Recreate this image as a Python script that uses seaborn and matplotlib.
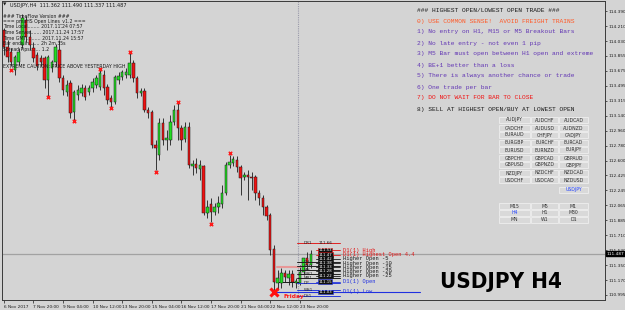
import numpy as np
import pandas as pd
import matplotlib
matplotlib.use("Agg")
import matplotlib.pyplot as plt
import seaborn as sns
from matplotlib.patches import Rectangle

# ---------------- data ----------------
opens = [114.16, 113.96, 113.90, 113.68, 113.78, 113.98, 114.28, 114.08, 113.95, 113.86,
         113.83, 113.83, 113.56, 113.71, 113.78, 113.92, 113.59, 113.42, 113.53, 113.18,
         113.39, 113.41, 113.47, 113.42, 113.47, 113.51, 113.48, 113.63, 113.48, 113.35,
         113.30, 113.56, 113.60, 113.63, 113.63, 113.77, 113.59, 113.41, 113.43, 113.21,
         113.18, 112.79, 112.67, 113.05, 112.85, 112.85, 113.06, 113.21, 112.99, 112.86,
         113.00, 112.54, 112.56, 112.50, 112.54, 111.97, 112.08, 111.99, 112.05, 112.08,
         112.21, 112.55, 112.57, 112.61, 112.52, 112.40, 112.43, 112.40, 112.40, 112.21,
         112.15, 112.05, 111.95, 111.54, 111.14, 111.14, 111.26, 111.20, 111.25, 111.14,
         111.14, 111.27, 111.44, 111.35]
highs = [114.19, 114.04, 113.95, 113.86, 113.95, 114.35, 114.33, 114.16, 114.02, 113.90,
         113.86, 113.85, 113.86, 113.80, 114.00, 114.04, 113.63, 113.56, 113.56, 113.45,
         113.51, 113.52, 113.51, 113.51, 113.59, 113.63, 113.71, 113.68, 113.52, 113.39,
         113.63, 113.66, 113.68, 113.71, 113.89, 113.80, 113.61, 113.47, 113.47, 113.24,
         113.21, 112.85, 113.11, 113.11, 112.97, 113.15, 113.27, 113.29, 113.03, 113.06,
         113.06, 112.61, 112.63, 112.61, 112.55, 112.13, 112.15, 112.09, 112.18, 112.31,
         112.58, 112.67, 112.66, 112.66, 112.55, 112.46, 112.49, 112.46, 112.43, 112.25,
         112.19, 112.07, 111.97, 111.59, 111.29, 111.32, 111.29, 111.29, 111.29, 111.20,
         111.35, 111.44, 111.51, 111.53]
lows = [113.86, 113.78, 113.73, 113.63, 113.74, 113.95, 114.02, 113.92, 113.78, 113.68,
        113.73, 113.47, 113.37, 113.66, 113.73, 113.54, 113.39, 113.37, 113.11, 113.09,
        113.33, 113.37, 113.33, 113.39, 113.42, 113.47, 113.45, 113.39, 113.28, 113.24,
        113.28, 113.52, 113.56, 113.59, 113.59, 113.54, 113.35, 113.37, 113.18, 113.11,
        112.75, 112.49, 112.61, 112.79, 112.73, 112.79, 113.03, 112.85, 112.73, 112.82,
        112.51, 112.43, 112.45, 112.37, 111.95, 111.91, 111.87, 111.95, 111.97, 112.03,
        112.19, 112.51, 112.54, 112.46, 112.19, 112.37, 112.13, 112.25, 112.13, 112.07,
        111.95, 111.89, 111.47, 111.03, 111.05, 111.08, 111.15, 111.11, 111.09, 111.08,
        111.11, 111.23, 111.29, 111.32]
closes = [113.96, 113.84, 113.78, 113.84, 113.90, 114.31, 114.08, 113.98, 113.83, 113.73,
          113.78, 113.56, 113.84, 113.78, 113.96, 113.59, 113.45, 113.51, 113.17, 113.42,
          113.45, 113.47, 113.36, 113.47, 113.54, 113.59, 113.65, 113.47, 113.33, 113.30,
          113.60, 113.61, 113.66, 113.66, 113.77, 113.59, 113.41, 113.43, 113.21, 113.17,
          112.79, 112.75, 113.05, 112.85, 112.87, 113.06, 113.21, 112.99, 112.85, 113.00,
          112.55, 112.56, 112.51, 112.55, 111.97, 112.05, 111.99, 112.05, 112.09, 112.21,
          112.55, 112.58, 112.62, 112.52, 112.39, 112.43, 112.40, 112.39, 112.21, 112.15,
          112.05, 111.94, 111.53, 111.15, 111.20, 111.26, 111.21, 111.25, 111.15, 111.16,
          111.27, 111.44, 111.35, 111.487]

date_labels = ["6 Nov 2017", "7 Nov 20:00", "9 Nov 04:00", "10 Nov 12:00", "13 Nov 20:00",
               "15 Nov 04:00", "16 Nov 12:00", "17 Nov 20:00", "21 Nov 04:00",
               "22 Nov 12:00", "23 Nov 20:00"]
date_label_bars = [0, 8, 16, 24, 32, 40, 48, 56, 64, 72, 80]

price_ticks = [114.390, 114.210, 114.030, 113.855, 113.675, 113.495, 113.315, 113.140,
               112.960, 112.780, 112.600, 112.425, 112.245, 112.065, 111.885, 111.710,
               111.530, 111.350, 111.170, 110.995]
current_price = 111.487

fractal_bars = [2, 12, 19, 26, 29, 34, 41, 47, 56, 61]
fractal_prices = [113.68, 113.36, 113.07, 113.70, 113.23, 113.90, 112.46, 113.30, 111.84, 112.69]
big_x_bar = 73
big_x_price = 111.03

pivot_names = ["DR1", "DH", "WH", "MH", "WR1", "MR1", "DP", "WS1", "DS1"]
pivot_prices = [111.62, 111.39, 111.34, 111.29, 111.245, 111.20, 111.14, 111.055, 110.98]

d1_names = ["D1(1) High", "D1(1) Highest Open 4.4", "Higher Open -5", "Higher Open -10",
            "Higher Open -15", "Higher Open -20", "Higher Open -25", "D1(1) Open", "D1(1) Low"]
d1_prices = [111.53, 111.475, 111.425, 111.375, 111.325, 111.275, 111.225, 111.15, 111.03]
dr1_value = "111.66"

info_lines = ["### TimeFlow Version ###",
              "=== pmaHS Open Lines_v1.2 ===",
              "Time Local........ 2017.11.24 07:57",
              "Time Server....... 2017.11.24 17:57",
              "Time GMT.......... 2017.11.24 15:57",
              "Bar ends in ...... 2h 2m 35s",
              "Spread Pips....... 1.2"]
caution_text = "EXTREME CAUTION: PRICE ABOVE YESTERDAY HIGH"
header_text = "USDJPY,H4  111.362 111.490 111.337 111.487"

rules = ["### HIGHEST OPEN/LOWEST OPEN TRADE ###",
         "0) USE COMMON SENSE!  AVOID FREIGHT TRAINS",
         "1) No entry on H1, M15 or M5 Breakout Bars",
         "2) No late entry - not even 1 pip",
         "3) M5 Bar must open between H1 open and extreme",
         "4) BE+1 better than a loss",
         "5) There is always another chance or trade",
         "6) One trade per bar",
         "7) DO NOT WAIT FOR BAR TO CLOSE",
         "8) SELL AT HIGHEST OPEN/BUY AT LOWEST OPEN"]
rule_colors = ["#1a1a1a", "#ff5a28", "#6236b4", "#6236b4", "#6236b4", "#6236b4",
               "#6236b4", "#6236b4", "#f01414", "#1a1a1a"]

pairs = [["AUDJPY", "AUDCHF", "AUDCAD"],
         ["CADCHF", "AUDUSD", "AUDNZD"],
         ["EURAUD", "CHFJPY", "CADJPY"],
         ["EURGBP", "EURCHF", "EURCAD"],
         ["EURUSD", "EURNZD", "EURJPY"],
         ["GBPCHF", "GBPCAD", "GBPAUD"],
         ["GBPUSD", "GBPNZD", "GBPJPY"],
         ["NZDJPY", "NZDCHF", "NZDCAD"],
         ["USDCHF", "USDCAD", "NZDUSD"],
         ["", "", "USDJPY"]]
timeframes = [["M15", "M5", "M1"],
              ["H4", "H1", "M30"],
              ["MN", "W1", "D1"]]

# ---------------- style ----------------
BG = "#d4d4d4"
sns.set_style("white", rc={"axes.facecolor": BG, "figure.facecolor": BG})
plt.rcParams["font.family"] = ["DejaVu Sans"]

W, H = 625, 310
fig = plt.figure(figsize=(W / 100, H / 100), dpi=100)
ax = fig.add_axes([2 / W, 10 / H, 603 / W, 299 / H])
ax.set_facecolor(BG)

df = pd.DataFrame({"o": opens, "h": highs, "l": lows, "c": closes})
df["bar"] = np.arange(len(df))
up = df["c"] >= df["o"]

ax.axhline(current_price, color="#a2a2a2", lw=0.9, zorder=1)
ax.axvline(79.5, color="#9a9aaa", lw=0.8, ls=(0, (1, 1)), zorder=1)

ax.vlines(df["bar"], df["l"], df["h"], color="#1a1a1a", lw=0.6, zorder=2)
body = np.maximum((df["c"] - df["o"]).abs(), 0.008)
ax.bar(df["bar"], body, bottom=np.minimum(df["o"], df["c"]), width=0.66,
       color=np.where(up, "#22dd22", "#ee1111"), edgecolor="#1a1a1a", linewidth=0.35, zorder=3)

frac = pd.DataFrame({"bar": fractal_bars, "price": fractal_prices})
sns.scatterplot(data=frac, x="bar", y="price", marker="x", s=6, color="#ff1a1a",
                linewidth=1.1, ax=ax, zorder=4)
ax.plot([big_x_bar], [big_x_price], marker="x", ms=6, mew=2.2, color="#ff1010", zorder=5)

mono = ["Liberation Mono", "DejaVu Sans Mono"]

# level lines region
for n, p in zip(pivot_names, pivot_prices):
    col = "#e02020" if n == "DR1" else ("#2a3ad8" if n in ("DP", "WS1", "DS1") else "#202020")
    ax.plot([79.3, 90.8], [p, p], color=col, lw=0.7, zorder=3)
    ax.text(81.0, p, n, fontsize=3.0, color="#202020", va="center", ha="left", zorder=6)
ax.text(85.0, pivot_prices[0], dr1_value, fontsize=3.0, color="#202020", va="center",
        ha="left", zorder=6)
for n, p in zip(d1_names, d1_prices):
    if "High" in n and "Higher" not in n:
        col = "#e01414"
    elif n in ("D1(1) Open", "D1(1) Low"):
        col = "#2030e0"
    else:
        col = "#1a1a1a"
    ax.plot([84.5, 90.8], [p, p], color=col, lw=0.6, zorder=3)
    ax.text(85.0, p, f"{p:.2f}", fontsize=2.8, color="white", va="center", ha="left",
            zorder=7, bbox=dict(boxstyle="square,pad=0.12", fc="#101010", ec=col, lw=0.4))
    ax.text(91.8, p, n, fontsize=3.9, color=col, va="center", ha="left",
            family=mono, zorder=6)
ax.plot([73.8, 80], [111.33, 111.33], color="#e89898", lw=1.5, zorder=2)
ax.plot([73.8, 80], [111.15, 111.15], color="#1a1a1a", lw=0.7, zorder=2)
ax.plot([73.8, 112.5], [111.03, 111.03], color="#2030e0", lw=0.8, zorder=2)

# axes / ticks
ax.set_xlim(-0.5, 162.5)
ax.set_ylim(110.934, 114.510)
ax.yaxis.tick_right()
ax.set_yticks(price_ticks)
ax.set_yticklabels([f"{t:.3f}" for t in price_ticks], fontsize=3.05)
ax.set_xticks(date_label_bars)
ax.set_xticklabels(date_labels, fontsize=3.1, ha="left")
ax.tick_params(axis="y", length=1.5, width=0.5, pad=0.8, colors="#1a1a1a", right=True, left=False)
ax.tick_params(axis="x", length=2, width=0.5, pad=1.5, colors="#1a1a1a", bottom=True)
for s in ax.spines.values():
    s.set_color("#3a3a3a")
    s.set_linewidth(0.7)
ax.set_xlabel("")
ax.set_ylabel("")
ax.annotate(f"{current_price:.3f}", xy=(1.0, current_price), xycoords=("axes fraction", "data"),
            xytext=(1.2, 0), textcoords="offset points", fontsize=3.05, color="white",
            va="center", ha="left", annotation_clip=False,
            bbox=dict(boxstyle="square,pad=0.15", fc="black", ec="black"))

# ---------------- overlay (pixel coords) ----------------
ov = fig.add_axes([0, 0, 1, 1], zorder=5)
ov.set_xlim(0, W)
ov.set_ylim(H, 0)
ov.axis("off")
ov.patch.set_alpha(0)

ov.text(3, 5, "\u25BC", fontsize=3.2, va="center", ha="left", color="#1a1a1a")
ov.text(10, 5, header_text, fontsize=3.6, va="center", ha="left", color="#1a1a1a")
for k, line in enumerate(info_lines):
    ov.text(3, 16 + k * 5.5, line, fontsize=3.3, va="center", ha="left", color="#1a1a1a")
ov.text(3, 66, caution_text, fontsize=3.4, va="center", ha="left", color="#1a1a1a")

for k, (line, col) in enumerate(zip(rules, rule_colors)):
    ov.text(417, 10 + k * 11, line, fontsize=4.5, va="center", ha="left", color=col, family=mono)

col_x = [499, 531, 559]
col_w = [31, 27, 29]
row_y = [120, 128, 135, 143, 150, 158, 165, 173, 180, 190]
for r, row in enumerate(pairs):
    for c, name in enumerate(row):
        if not name:
            continue
        ov.add_patch(Rectangle((col_x[c], row_y[r] - 3.3), col_w[c], 6.6, fc="#d9d9d9",
                               ec="#eeeeee", lw=0.6))
        ov.text(col_x[c] + col_w[c] / 2, row_y[r], name, fontsize=3.3, ha="center", va="center",
                color="#2040ff" if name == "USDJPY" else "#303030")
tf_y = [206, 213, 219.5]
for r, row in enumerate(timeframes):
    for c, name in enumerate(row):
        ov.add_patch(Rectangle((col_x[c], tf_y[r] - 3.0), col_w[c], 6.0, fc="#d9d9d9",
                               ec="#eeeeee", lw=0.6))
        ov.text(col_x[c] + col_w[c] / 2, tf_y[r], name, fontsize=3.3, ha="center", va="center",
                color="#2040ff" if name == "H4" else "#303030")

ov.text(501, 282, "USDJPY H4", fontsize=16, fontweight="heavy", fontstretch="condensed",
        ha="center", va="center", color="black",
        family=["DejaVu Sans"])
ov.text(284, 296.5, "Friday", fontsize=4.2, fontweight="bold", ha="left", va="center", color="#ff1a1a")

fig.savefig("out.png", dpi=100, facecolor=BG)
